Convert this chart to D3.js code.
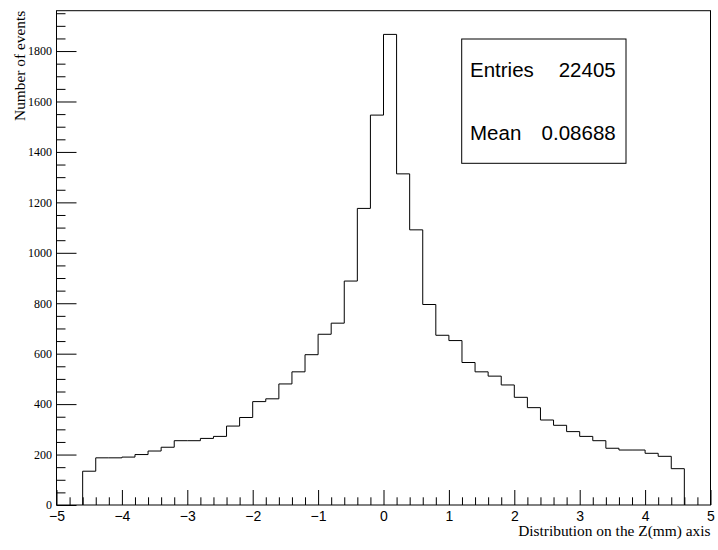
<!DOCTYPE html>
<html>
<head>
<meta charset="utf-8">
<script src="https://cdn.jsdelivr.net/npm/d3@7"></script>
<style>
  html, body { margin: 0; padding: 0; background: #fff; }
  svg { display: block; }
</style>
</head>
<body>
<svg id="chart" width="718" height="550"></svg>
<script>
// ---- data ----
const binLow = -4.6;        // lower edge of first bin
const binWidth = 0.2;       // bin width
const counts = [
  134, 187, 187, 190, 200, 214, 229, 255, 255, 264, 272, 313, 347, 410, 421, 480,
  528, 596, 677, 721, 888, 1176, 1546, 1866, 1313, 1091, 795, 673, 652, 565, 528,
  511, 476, 427, 386, 337, 316, 291, 272, 255, 225, 218, 218, 205, 193, 144
];
const xMajorTicks = [-5, -4, -3, -2, -1, 0, 1, 2, 3, 4, 5];
const yMajorTicks = [0, 200, 400, 600, 800, 1000, 1200, 1400, 1600, 1800];
const xDomain = [-5, 5];
const yDomain = [0, 1960];
const xTitle = "Distribution on the Z(mm) axis";
const yTitle = "Number of events";
const statsLabels = ["Entries", "Mean"];
const statsValues = ["22405", "0.08688"];

// ---- layout ----
const frame = { left: 56.5, right: 710.5, top: 10.7, bottom: 505 };
const svg = d3.select("#chart");

const x = d3.scaleLinear().domain(xDomain).range([frame.left, frame.right]);
const y = d3.scaleLinear().domain(yDomain).range([frame.bottom, frame.top]);

// minor ticks
const xMinor = d3.range(-5, 5.0001, 0.2).map(v => +v.toFixed(2)).filter(v => !xMajorTicks.includes(v));
const yMinor = d3.range(0, 1960, 50).filter(v => !yMajorTicks.includes(v));

// frame
svg.append("rect")
  .attr("x", frame.left).attr("y", frame.top)
  .attr("width", frame.right - frame.left).attr("height", frame.bottom - frame.top)
  .attr("fill", "none").attr("stroke", "#000").attr("stroke-width", 1);

// x axis (ticks pointing up into the frame)
const gx = svg.append("g").attr("transform", `translate(0,${frame.bottom})`);
gx.call(d3.axisBottom(x).tickValues(xMajorTicks).tickSizeInner(-15).tickSizeOuter(0).tickPadding(6)
  .tickFormat(d3.format("d")));
const gxm = svg.append("g").attr("transform", `translate(0,${frame.bottom})`);
gxm.call(d3.axisBottom(x).tickValues(xMinor).tickSizeInner(-7.7).tickSizeOuter(0).tickFormat(""));
[gx, gxm].forEach(g => {
  g.select(".domain").remove();
  g.selectAll(".tick line").attr("stroke", "#000");
});
gx.selectAll(".tick text")
  .attr("font-family", "'Liberation Sans', Arial, Helvetica, sans-serif")
  .attr("font-size", 14).attr("fill", "#000");

// y axis
const gy = svg.append("g").attr("transform", `translate(${frame.left},0)`);
gy.call(d3.axisLeft(y).tickValues(yMajorTicks).tickSizeInner(-20).tickSizeOuter(0).tickPadding(4.5)
  .tickFormat(d3.format("d")));
const gym = svg.append("g").attr("transform", `translate(${frame.left},0)`);
gym.call(d3.axisLeft(y).tickValues(yMinor).tickSizeInner(-9).tickSizeOuter(0).tickFormat(""));
[gy, gym].forEach(g => {
  g.select(".domain").remove();
  g.selectAll(".tick line").attr("stroke", "#000");
});
gy.selectAll(".tick text")
  .attr("font-family", "'Liberation Serif', 'Times New Roman', serif")
  .attr("font-size", 12).attr("fill", "#000");

// histogram outline
const pts = [[binLow, 0]];
counts.forEach((c, i) => {
  const lo = binLow + i * binWidth, hi = binLow + (i + 1) * binWidth;
  pts.push([lo, c], [hi, c]);
});
pts.push([binLow + counts.length * binWidth, 0]);
svg.append("path")
  .attr("d", d3.line().x(d => x(d[0])).y(d => y(d[1]))(pts))
  .attr("fill", "none").attr("stroke", "#000").attr("stroke-width", 1);

// axis titles
svg.append("text")
  .attr("x", frame.right).attr("y", 536)
  .attr("text-anchor", "end")
  .attr("font-family", "'Liberation Serif', 'Times New Roman', serif")
  .attr("font-size", 15.4).attr("fill", "#000")
  .text(xTitle);
svg.append("text")
  .attr("transform", `translate(25,${frame.top}) rotate(-90)`)
  .attr("text-anchor", "end")
  .attr("font-family", "'Liberation Serif', 'Times New Roman', serif")
  .attr("font-size", 15.4).attr("fill", "#000")
  .text(yTitle);

// stats box
const box = { x0: 461.7, x1: 626, y0: 39, y1: 163.3 };
svg.append("rect")
  .attr("x", box.x0).attr("y", box.y0)
  .attr("width", box.x1 - box.x0).attr("height", box.y1 - box.y0)
  .attr("fill", "#fff").attr("stroke", "#000").attr("stroke-width", 1);
const rowBaselines = [77.3, 140];
statsLabels.forEach((lab, i) => {
  svg.append("text")
    .attr("x", 470).attr("y", rowBaselines[i])
    .attr("font-family", "'Liberation Sans', Arial, Helvetica, sans-serif")
    .attr("font-size", 20.5).attr("fill", "#000")
    .text(lab);
  svg.append("text")
    .attr("x", 615.7).attr("y", rowBaselines[i])
    .attr("text-anchor", "end")
    .attr("font-family", "'Liberation Sans', Arial, Helvetica, sans-serif")
    .attr("font-size", 20.5).attr("fill", "#000")
    .text(statsValues[i]);
});
</script>
</body>
</html>
